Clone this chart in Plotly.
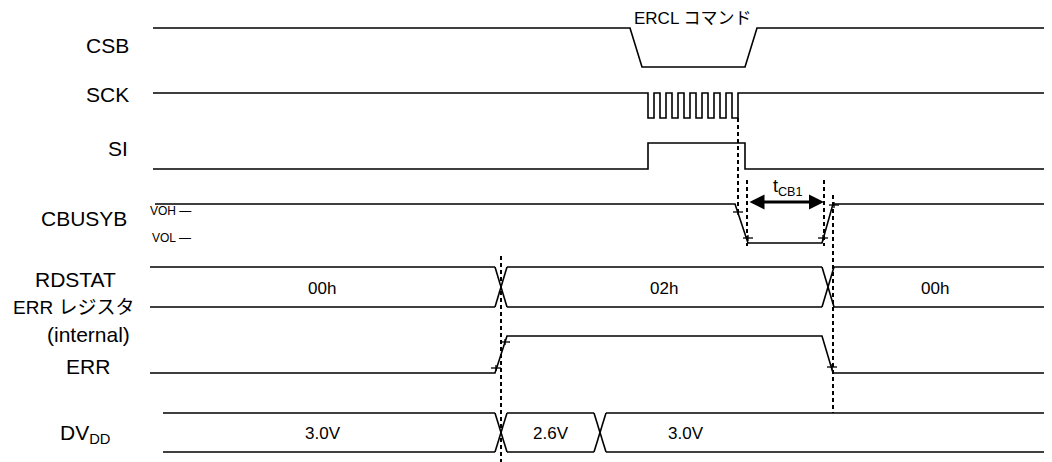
import plotly.graph_objects as go

W, H = 1052, 462
PAGE_PAD = 8  # default body margin of the html page
FONT = "Liberation Sans, Arial, Noto Sans CJK JP, sans-serif"

# --- waveform data (time in px-like units, level 1 = high, 0 = low) ---
csb_t = [153, 630, 642, 745, 757, 1052]
csb_lv = [1, 1, 0, 0, 1, 1]

sck_fall = [648, 660, 672, 684, 696, 708, 720, 732]
sck_rise = [654, 666, 678, 690, 702, 714, 726, 738]

si_t = [153, 648, 648, 745, 745, 1052]
si_lv = [0, 0, 1, 1, 0, 0]

cbusy_t = [155, 735, 748, 822, 833, 1052]
cbusy_lv = [1, 1, 0, 0, 1, 1]

err_t = [150, 495, 507, 822, 833, 1052]
err_lv = [0, 0, 1, 1, 0, 0]

rdstat_start = 150
rdstat_cross = [501, 828]
rdstat_vals = ["00h", "02h", "00h"]
rdstat_lbl_x = [322, 664, 935]

dvdd_start = 163
dvdd_cross = [501, 600]
dvdd_vals = ["3.0V", "2.6V", "3.0V"]
dvdd_lbl_x = [323, 551, 686]

# row geometry: (high y, low y)
rows = {
    "CSB": (28, 67),
    "SCK": (93, 118),
    "SI": (143, 169),
    "CBUSYB": (204, 243),
    "RDSTAT": (267, 307),
    "ERR": (336, 373),
    "DVDD": (413, 452),
}

# dashed timing references: (x, y0, y1)
dashes = [(738, 118, 213), (747, 180, 246), (824, 180, 246), (833, 195, 413), (501, 256, 462)]
# threshold ticks on edges
ticks = [(738, 212), (748, 238), (823, 238), (834, 205), (496, 368), (505, 342), (832, 367)]

fig = go.Figure()
LINE = dict(color="black", width=1.6)


def add_wave(t, lv, row):
    hi, lo = rows[row]
    y = [hi if v else lo for v in lv]
    fig.add_trace(go.Scatter(x=t, y=y, mode="lines", line=LINE, hoverinfo="skip"))


def add_bus(start, cross, row, half=6, end=W):
    hi, lo = rows[row]
    xs, ys = [], []
    edges = [start] + cross + [end]
    for i in range(len(edges) - 1):
        a = edges[i] + (half if i > 0 else 0)
        b = edges[i + 1] - (half if i < len(edges) - 2 else 0)
        xs += [a, b, None, a, b, None]
        ys += [hi, hi, None, lo, lo, None]
    for c in cross:
        xs += [c - half, c + half, None, c - half, c + half, None]
        ys += [hi, lo, None, lo, hi, None]
    fig.add_trace(go.Scatter(x=xs, y=ys, mode="lines", line=LINE, hoverinfo="skip"))


add_wave(csb_t, csb_lv, "CSB")

hi, lo = rows["SCK"]
sx, sy = [153, sck_fall[0]], [hi, hi]
for f, r in zip(sck_fall, sck_rise):
    sx += [f, f, r, r]
    sy += [hi, lo, lo, hi]
sx.append(W)
sy.append(hi)
fig.add_trace(go.Scatter(x=sx, y=sy, mode="lines", line=LINE, hoverinfo="skip"))

add_wave(si_t, si_lv, "SI")
add_wave(cbusy_t, cbusy_lv, "CBUSYB")
add_wave(err_t, err_lv, "ERR")
add_bus(rdstat_start, rdstat_cross, "RDSTAT")
add_bus(dvdd_start, dvdd_cross, "DVDD")

# dashed lines
dx, dy = [], []
for x, y0, y1 in dashes:
    dx += [x, x, None]
    dy += [y0, y1, None]
fig.add_trace(go.Scatter(x=dx, y=dy, mode="lines",
                         line=dict(color="black", width=2, dash="4px,3px"), hoverinfo="skip"))

# ticks on edges (small crosses)
tx, ty = [], []
for x, y in ticks:
    tx += [x - 5, x + 5, None, x, x, None]
    ty += [y, y, None, y - 3, y + 3, None]
fig.add_trace(go.Scatter(x=tx, y=ty, mode="lines", line=dict(color="black", width=1.3),
                         hoverinfo="skip"))

# tCB1 arrow
fig.add_annotation(x=824, y=202, ax=748, ay=202, xref="x", yref="y", axref="x", ayref="y",
                   text="", showarrow=True, arrowhead=2, arrowside="end+start",
                   arrowsize=1, arrowwidth=3, arrowcolor="black", standoff=0, startstandoff=0)
fig.add_annotation(x=788, y=187, text="t<sub>CB1</sub>", showarrow=False,
                   font=dict(size=18, family=FONT, color="black"))

fig.add_annotation(x=692, y=18, text="ERCL コマンド", showarrow=False,
                   font=dict(size=17, family=FONT, color="black"))

# VOH / VOL
fig.add_annotation(x=148, y=211, text="VOH —", showarrow=False, xanchor="left",
                   font=dict(size=12, family=FONT, color="black"))
fig.add_annotation(x=150, y=238, text="VOL —", showarrow=False, xanchor="left",
                   font=dict(size=12, family=FONT, color="black"))

# bus values
for v, x in zip(rdstat_vals, rdstat_lbl_x):
    fig.add_annotation(x=x, y=288, text=v, showarrow=False,
                       font=dict(size=17, family=FONT, color="black"))
for v, x in zip(dvdd_vals, dvdd_lbl_x):
    fig.add_annotation(x=x, y=433, text=v, showarrow=False,
                       font=dict(size=17, family=FONT, color="black"))

# signal names
names = [
    ("CSB", 131, 45, "right", 21),
    ("SCK", 131, 94, "right", 21),
    ("SI", 130, 148, "right", 21),
    ("CBUSYB", 129, 218, "right", 21),
    ("RDSTAT", 75, 279, "center", 21),
    ("ERR レジスタ", 73, 307, "center", 19),
    ("(internal)", 88, 334, "center", 21),
    ("ERR", 88, 366, "center", 21),
    ("DV<sub>DD</sub>", 85, 434, "center", 21),
]
for txt, x, y, anc, sz in names:
    fig.add_annotation(x=x, y=y, text=txt, showarrow=False, xanchor=anc,
                       font=dict(size=sz, family=FONT, color="black"))

# the page adds an 8px body margin, so the figure is shrunk and the ranges shifted
fig.update_xaxes(range=[PAGE_PAD, W], visible=False, fixedrange=True)
fig.update_yaxes(range=[H, PAGE_PAD], visible=False, fixedrange=True)
fig.update_layout(
    width=W - PAGE_PAD, height=H - PAGE_PAD,
    margin=dict(l=0, r=0, t=0, b=0),
    plot_bgcolor="white", paper_bgcolor="white",
    showlegend=False,
)

fig.write_html("out.html")
